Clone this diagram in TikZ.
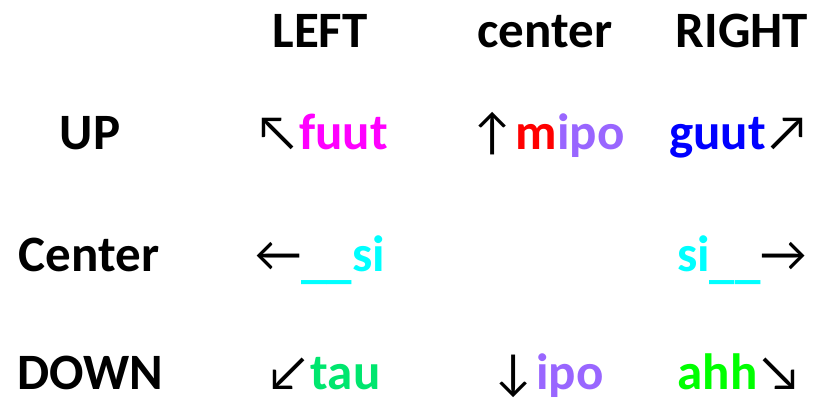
\documentclass[tikz,border=0pt]{standalone}
\usepackage{fontspec}
\setmainfont{Carlito}
\newfontfamily\arrowfont{Carlito}
\definecolor{cmag}{HTML}{FF00FF}
\definecolor{cred}{HTML}{FF0000}
\definecolor{cpur}{HTML}{9966FF}
\definecolor{cblue}{HTML}{0000FF}
\definecolor{ccyan}{HTML}{00FFFF}
\definecolor{cgreen}{HTML}{00E66E}
\definecolor{clime}{HTML}{00FF00}
\newcommand{\ar}[1]{{\mdseries\arrowfont #1}}
\newcommand{\uu}{\raisebox{-6pt}{\_\_}}
\begin{document}
\begin{tikzpicture}[x=1pt,y=-1pt,
  lab/.style={anchor=base, inner sep=0pt, font=\fontsize{51}{60}\selectfont\bfseries}]
\useasboundingbox (0,0) rectangle (820,401);
\node[lab] (hleft) at (320,48) {LEFT};
\node[lab] (hcenter) at (545,48) {center};
\node[lab] (hright) at (742,48) {RIGHT};
\node[lab] (rup) at (90,150) {UP};
\node[lab] (rcenter) at (89,271) {Center};
\node[lab] (rdown) at (90,389) {DOWN};
\node[lab] (ul) at (321,150) {\ar{↖}\textcolor{cmag}{fuut}};
\node[lab] (uc) at (547,150) {\ar{↑}\textcolor{cred}{m}\textcolor{cpur}{ipo}};
\node[lab] (ur) at (740,150) {\textcolor{cblue}{guut}\ar{↗}};
\node[lab] (cl) at (320,271) {\ar{←}\textcolor{ccyan}{\uu si}};
\node[lab] (cr) at (742,271) {\textcolor{ccyan}{si\uu}\ar{→}};
\node[lab] (dl) at (323,389) {\ar{↙}\textcolor{cgreen}{tau}};
\node[lab] (dc) at (547,389) {\ar{↓}\textcolor{cpur}{ipo}};
\node[lab] (dr) at (740,389) {\textcolor{clime}{ahh}\ar{↘}};
\end{tikzpicture}
\end{document}
